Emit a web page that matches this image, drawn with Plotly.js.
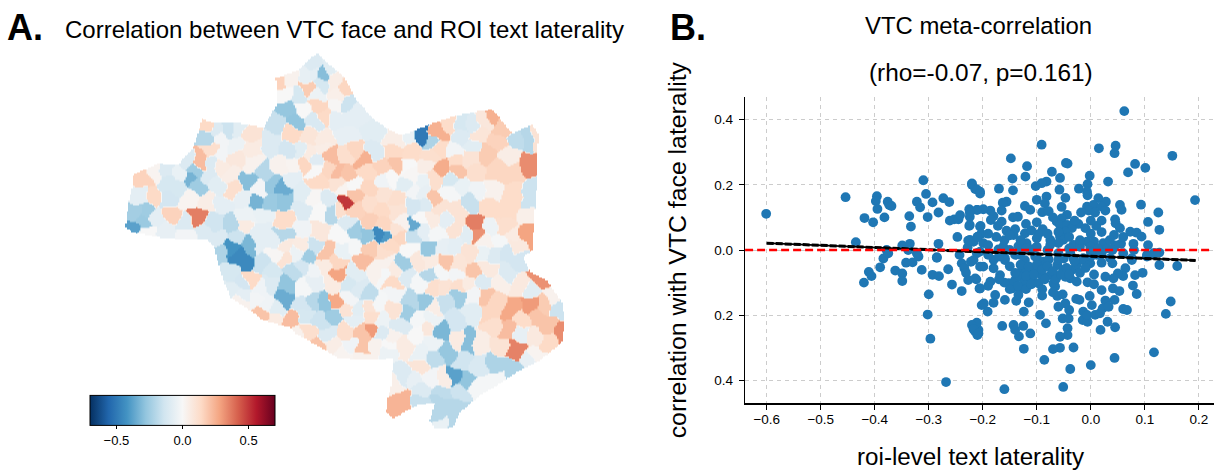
<!DOCTYPE html>
<html><head><meta charset="utf-8">
<script src="https://cdn.plot.ly/plotly-3.0.1.min.js"></script>
<style>html,body{margin:0;padding:0;background:#fff}#c{width:1214px;height:470px}</style>
</head><body><div id="c"></div>
<script>
// ---- Panel B values
const roiTextLaterality = [
-.601,-.454,-.435,-.419,-.403,-.396,-.398,-.395,-.382,-.376,-.373,-.369,-.336,-.333,-.322,-.316,-.310,-.305,-.293,-.302,-.282,-.273,-.262,-.261,-.253,-.245,-.242,-.247,-.225,-.224,-.225,-.220,-.214,-.205,-.210,-.205,-.227,-.217,-.228,-.209,-.282,-.335,-.349,-.378,-.243,-.285,-.322,-.338,
-.384,-.375,-.390,-.411,-.406,-.420,-.362,-.349,-.349,-.342,-.330,-.319,-.313,-.285,-.293,-.281,-.264,-.257,-.300,-.302,-.297,-.268,-.239,-.239,-.234,-.231,-.227,-.222,-.212,-.206,-.202,-.217,-.212,-.208,-.214,-.210,-.205,
.062,-.091,.015,.046,.044,.151,-.148,-.118,-.046,-.043,-.072,.082,.069,.101,-.121,-.145,-.057,-.002,.032,-.082,-.091,-.102,-.006,-.022,-.170,-.144,-.058,-.007,-.006,-.220,-.211,-.205,.193,-.047,-.082,-.100,-.085,.014,.028,-.156,-.163,-.122,-.112,.054,.057,.093,-.054,-.007,.005,.020,.027,-.004,.008,-.018,-.090,-.078,-.044,.125,.045,.046,.106,.127,-.165,-.186,-.199,-.211,-.224,-.180,-.185,-.144,-.135,-.165,-.172,-.204,-.224,-.156,-.140,-.143,-.122,-.100,-.089,-.097,-.063,-.054,-.057,-.044,-.023,-.010,.010,-.035,-.047,-.057,-.075,.054,.073,.085,.094,.043,-.007,.006,.023,.056,.045,.079,.106,-.032,-.051,-.060,-.162,-.134,-.119,-.109,-.075,-.203,-.199,-.217,-.224,-.190,-.171,-.001,.014,.030,.127,.104,.116,.076,-.211,-.159,-.131,-.100,-.038,-.014,.011,.036,
.160,.127,.119,.104,.096,.082,.078,.085,.076,.064,.060,.050,.042,.027,.040,.020,.006,-.006,.006,.020,.041,.053,-.002,.044,.027,.148,.139,.060,.067,.117,.044,.000,-.038,-.086,-.051,-.160,-.032,-.057,-.070,-.124,-.112,-.133,-.125,-.143,-.140,-.164,-.083,-.094,-.124,-.115,-.138,-.159,-.177,-.180,-.198,-.191,-.211,-.220,-.217,-.208,-.043,-.043,-.057,-.052,-.041,-.040,-.047,-.060,-.062,-.052,-.027,-.021,-.014,-.015,-.006,-.007,.008,.002,.017,.031,.045,.018,.022,.033,-.205,-.199,-.180,-.168,-.186,-.214,-.159,-.146,-.152,-.140,-.128,-.119,-.131,-.109,-.097,-.103,-.088,-.078,-.122,-.103,-.069,-.066,-.075,-.062,-.051,-.038,-.026,-.035,-.026,-.014,-.001,-.063,-.047,-.131,-.143,-.217,-.050,-.032,-.091,-.134,-.122,
-.15,-.14,-.13,-.12,-.115,-.105,-.10,-.09,-.085,-.08,-.07,-.065,-.06,-.055,-.045,-.04,-.03,-.02,-.01,.0,-.16,-.15,-.135,-.12,-.11,-.09,-.18,-.17,-.15,-.14,-.12,-.10,-.08,-.06,-.04,-.02,.0,.02,.04,.06,.08,-.19,-.205,-.21,-.19,-.175,-.16,-.15,-.13,-.11,-.08,-.06,-.04,-.02,.0,.02,.035,.06,.02,.0,-.03,-.07,-.10,-.12,-.19,-.17,-.09,-.07
];
const vtcFaceLaterality = [
.111,.162,.024,.098,.085,.165,.150,.126,.100,.148,.138,.135,.104,.072,.148,.131,.214,.172,.146,.101,.115,.159,.147,.090,.094,.094,.107,.040,.125,.102,.074,.204,.187,.179,.123,.072,.029,.026,.008,.041,.019,.019,.014,.000,-.015,-.022,-.010,.000,
-.026,-.010,-.053,-.067,-.080,-.100,-.063,-.072,-.095,-.039,-.038,-.020,-.061,-.024,-.076,-.080,-.059,-.106,-.136,-.198,-.272,-.405,-.126,-.041,-.056,-.070,-.092,-.036,-.090,-.118,-.169,-.235,-.227,-.245,-.250,-.261,-.051,
.426,.323,.312,.320,.297,.289,.281,.257,.267,.265,.240,.264,.238,.252,.225,.219,.221,.228,.210,.210,.205,.196,.202,.188,.188,.183,.185,.179,.168,.200,.186,.173,.153,.160,.164,.154,.143,.159,.148,.148,.145,.135,.123,.138,.123,.139,.132,.133,.138,.133,.121,.121,.115,.115,.116,.119,.108,.115,.094,.082,.086,.062,.121,.121,.125,.123,.115,.104,.092,.100,.102,.087,.074,.074,.077,.059,.064,.046,.051,.036,.064,.049,.087,.097,.077,.077,.080,.067,.074,.067,.056,.041,.031,.067,.056,.053,.041,.046,.026,.026,.021,.019,.014,.019,.015,.016,.031,.021,.010,.012,.021,.003,.016,.049,.021,.026,.031,.015,.002,.010,.005,.005,-.008,-.015,-.010,-.025,-.010,-.025,-.015,-.020,-.010,-.025,-.015,-.025,
-.049,-.046,-.010,-.020,-.070,-.077,-.109,-.135,-.031,-.056,-.080,-.072,-.087,-.082,-.041,-.039,-.075,-.099,-.105,-.123,-.118,-.126,-.141,-.153,-.155,-.158,-.196,-.181,-.184,-.314,-.331,-.353,-.365,-.337,-.420,-.427,-.299,-.300,-.304,-.303,-.256,-.265,-.233,-.230,-.245,-.233,-.225,-.199,-.189,-.161,-.156,-.153,-.138,-.162,-.164,-.189,-.223,-.230,-.243,-.256,-.240,-.261,-.266,-.210,-.210,-.184,-.164,-.174,-.141,-.136,-.150,-.153,-.189,-.215,-.220,-.199,-.199,-.169,-.194,-.220,-.237,-.245,-.179,-.174,-.118,-.051,-.056,-.077,-.097,-.087,-.031,-.118,-.102,-.092,-.066,-.061,-.118,-.087,-.102,-.061,-.036,-.029,-.031,-.020,-.102,-.112,-.077,-.046,-.061,-.087,-.097,-.061,-.046,-.031,-.041,-.082,-.082,-.082,-.102,-.031,-.026,-.026,-.077,-.138,-.097,
-.05,-.07,-.045,-.08,-.05,-.075,-.045,-.06,-.09,-.05,-.065,-.09,-.03,-.075,-.055,-.075,-.035,-.07,-.055,-.02,-.10,-.12,-.11,-.12,-.105,-.12,-.03,-.02,.0,-.015,.005,.01,.0,-.01,.005,.01,-.005,-.01,.0,-.01,.0,-.015,-.005,.04,.05,.04,.03,.045,.03,.06,.05,.055,.04,.03,.05,.055,.03,.04,.09,.09,.09,.1,.085,.08,-.11,-.09,-.14,-.13
];
const fitX = [-0.6, 0.194];
const fitY = [0.021, -0.032];
const zeroX = [-0.64, 0.2265];
const zeroY = [0, 0];
const xTicks = [-0.6,-0.5,-0.4,-0.3,-0.2,-0.1,0,0.1,0.2];
const yTicks = [0.4,0.2,0,-0.2,-0.4];
const yTickLabels = ["0.4","0.2","0.0","0.2","0.4"];

// ---- Panel A parcels: [column, row, correlation], read per quadrant of the map
const parcelsNW = [[700,70,-.1],[725,98,-.3],[680,105,-.06],[745,75,-.08],[700,100,-.07],[722,135,-.12],[597,123,.16],[630,115,.03],[615,160,0],[655,165,-.12],[682,143,.18],[710,160,-.04],[760,125,.05],[770,165,.04],[620,205,-.27],[648,238,-.28],[665,208,0],[712,197,.15],[735,225,.14],[765,195,.01],[590,248,-.16],[700,242,-.11],[765,235,-.07],[630,278,.14],[510,280,.1],[380,250,.14],[405,268,-.1],[440,268,-.15],[475,262,-.08],[385,292,-.2],[422,295,-.02],[570,308,-.1],[690,285,.09],[725,300,.06],[515,320,.06],[395,325,.12],[460,315,-.04],[625,330,-.13],[657,332,-.08],[725,320,.05],[685,340,.06],[360,362,.22],[395,365,-.1],[420,340,-.02],[320,362,-.1],[750,345,.22],[708,355,-.09],[672,372,.15],[700,388,0],[465,355,.08],[420,380,.06],[450,400,.05],[515,370,.03],[600,375,.03],[640,370,.02],[550,395,-.2],[505,420,-.3],[575,430,-.27],[605,442,-.35],[535,442,-.02],[630,415,-.07],[260,385,-.1],[297,398,-.05],[340,395,-.25],[328,412,-.33],[355,432,-.25],[380,408,-.1],[190,415,.16],[220,395,.02],[258,430,-.12],[295,435,-.12],[408,435,-.08],[458,450,.12],[420,490,-.07],[490,470,-.06],[525,487,-.33],[565,485,-.26],[610,475,-.28],[665,460,-.08],[665,510,-.1],[700,470,.01],[712,425,.14],[745,385,.15],[775,395,.22],[770,430,.1],[745,470,-.1],[180,465,-.07],[222,465,.14],[325,478,.02],[382,485,.05],[258,478,-.13],[165,520,-.24],[198,515,-.25],[155,558,-.38],[185,545,-.26],[225,530,-.07],[272,522,.16],[350,528,.36],[315,550,-.1],[405,540,-.14],[450,555,-.2],[500,525,-.04],[545,520,-.05],[615,540,.13],[670,565,-.03],[715,515,0],[755,515,-.2],[200,575,0],[260,570,-.06],[360,580,-.1],[310,590,-.02],[490,555,.06],[540,570,-.07],[610,585,-.2],[710,570,.08],[775,510,.12]];
const parcelsNE = [[15,483,.5],[15,140,.15],[20,185,-.15],[65,215,-.07],[30,235,-.07],[100,270,-.08],[20,280,-.06],[165,295,.05],[215,285,-.05],[238,285,-.5],[275,305,-.22],[295,280,.25],[330,250,.13],[360,250,-.12],[400,250,-.1],[430,235,.08],[450,220,.25],[490,265,.18],[415,285,.09],[360,290,-.1],[470,305,.16],[400,315,-.08],[340,330,-.02],[530,300,-.18],[565,295,-.2],[510,340,.05],[440,335,.18],[590,290,.1],[565,375,.33],[45,330,.15],[100,335,-.1],[160,335,.14],[215,335,.13],[270,345,.12],[300,320,.13],[70,355,.25],[15,345,.12],[275,358,.28],[390,350,.1],[345,360,.13],[310,380,.26],[350,390,.2],[130,380,.16],[170,370,.2],[255,375,.05],[200,375,0],[20,400,.2],[80,395,.14],[150,410,0],[215,400,.01],[130,420,-.03],[330,415,-.12],[280,420,.12],[370,430,-.05],[400,400,.12],[470,390,.15],[520,400,.15],[570,445,-.15],[40,430,0],[195,435,-.08],[250,420,-.05],[220,450,-.02],[250,455,-.06],[325,460,-.01],[410,450,-.03],[455,450,.03],[525,450,.13],[40,460,.2],[90,440,.15],[10,450,.02],[125,465,.1],[175,475,.12],[280,475,.2],[390,485,-.16],[45,510,.16],[95,485,.12],[220,495,-.13],[255,495,-.1],[300,500,.1],[350,505,.1],[445,500,.13],[510,500,.13],[565,520,.04],[570,485,-.15],[120,510,.14],[170,510,.1],[90,540,.17],[130,550,.15],[20,545,-.1],[45,575,-.25],[80,585,-.28],[118,583,-.45],[5,580,0],[165,570,.1],[190,545,.03],[218,550,-.36],[240,535,0],[218,585,-.16],[250,570,-.07],[278,535,.06],[315,540,-.07],[290,580,-.01],[350,565,.1],[410,550,.36],[380,585,-.08],[445,565,-.04],[495,565,.12],[520,585,.06],[558,580,.28],[180,590,.15]];
const parcelsSW = [[30,15,-.02],[70,15,-.07],[115,25,-.1],[170,10,-.15],[120,65,-.22],[172,75,-.45],[150,55,-.42],[190,98,-.45],[208,45,-.32],[235,35,-.07],[280,35,-.07],[245,100,-.15],[285,70,.01],[315,45,.07],[365,40,.06],[400,50,-.15],[435,68,.2],[490,60,-.05],[522,50,-.01],[570,55,.18],[610,70,.12],[385,80,-.25],[345,70,-.04],[315,88,.1],[470,95,.15],[545,90,.22],[425,105,.06],[155,125,-.12],[210,145,.14],[185,160,-.13],[275,115,-.12],[335,120,-.18],[365,105,-.13],[400,120,-.03],[476,130,.28],[525,125,-.08],[590,125,.03],[640,125,.06],[150,175,-.08],[190,190,-.07],[243,175,-.03],[270,160,-.1],[320,160,-.28],[365,175,-.01],[405,155,-.06],[455,165,.06],[505,165,-.12],[535,175,-.1],[560,195,-.18],[640,155,.14],[310,205,-.35],[225,205,-.02],[255,225,-.03],[505,205,-.02],[600,215,-.01],[640,190,-.02],[400,210,-.2],[430,215,-.28],[465,212,.27],[365,225,-.13],[180,215,.03],[290,235,-.08],[535,235,-.08],[505,238,.1],[565,225,.1],[640,235,.1],[250,245,.2],[460,255,-.25],[330,265,.22],[575,260,.12],[370,250,-.12],[420,275,-.15],[280,265,.06],[520,265,-.07],[600,270,-.04],[385,305,.12],[440,310,-.1],[500,300,.12],[545,310,.2],[580,292,.3],[600,310,-.1],[635,320,.03],[352,340,-.25],[350,320,.03],[450,345,.05],[512,345,-.03],[585,345,.03],[625,365,-.04],[548,353,.2],[415,350,.2],[490,370,.02],[550,380,.03]];
const parcelsSE = [[15,15,-.4],[30,40,.14],[60,30,.2],[100,15,-.18],[85,55,0],[150,55,-.27],[185,50,-.06],[165,20,0],[225,45,-.07],[270,65,.1],[290,8,.32],[255,30,-.05],[315,30,.03],[360,30,-.01],[310,70,-.05],[340,70,-.1],[380,65,-.13],[410,95,-.13],[405,40,.07],[435,20,.3],[15,90,.03],[30,90,.1],[75,95,-.25],[110,95,.08],[150,90,.06],[195,95,.2],[235,100,.09],[280,125,.2],[320,115,.07],[10,130,-.01],[40,125,.05],[80,135,-.1],[120,160,-.01],[150,135,-.2],[225,135,-.02],[185,125,-.01],[265,155,.06],[310,150,-.1],[355,165,.04],[420,165,.07],[385,125,-.1],[480,150,.32],[455,175,-.08],[42,155,.15],[160,170,.12],[235,165,.12],[190,165,.1],[40,225,.1],[95,212,-.2],[133,213,-.27],[85,248,-.25],[160,235,.05],[115,260,-.01],[195,215,-.16],[235,195,-.25],[275,195,-.02],[320,192,.2],[350,205,.15],[395,235,.27],[453,225,.3],[520,200,.03],[495,220,.18],[60,285,-.1],[10,310,-.12],[155,260,-.04],[225,270,-.13],[275,245,-.08],[330,245,.15],[430,265,.13],[465,260,.2],[510,285,.2],[535,240,-.15],[545,305,.33],[140,298,.08],[182,300,-.32],[115,310,0],[30,340,0],[70,350,.06],[155,335,-.04],[235,330,.06],[262,332,-.3],[300,335,.05],[340,290,.12],[380,300,.22],[425,308,-.06],[460,320,.07],[505,335,.14],[360,345,.1],[408,358,.35],[468,375,.02],[125,370,-.05],[160,380,-.18],[205,365,-.27],[120,410,.09],[70,435,-.1],[155,440,-.02],[190,445,.05],[225,435,-.38],[260,450,-.28],[245,395,-.14],[295,410,-.11],[345,400,-.22],[400,415,-.22],[445,390,-.06],[100,445,-.06],[120,480,-.1],[40,465,.04],[288,470,-.01],[240,490,-.15],[190,490,-.18],[345,450,-.01],[65,505,.24],[35,535,.24],[120,510,-.16],[185,510,-.2],[240,530,-.2],[175,555,-.2],[185,572,-.05],[220,570,-.2]];
const mapOutlineX = [317,330,340,345,357,373,390,402,427,457,483,492,500,512,532,539,537,537,535,533,532,523,530,547,562,565,562,550,537,520,497,480,460,453,435,430,435,417,402,393,386,388,392,393,363,337,317,295,290,263,250,230,223,217,213,207,180,160,133,125,128,132,132,157,177,193,202,213,235,263,277,277,275,297];
const mapOutlineY = [52,65,73,78,100,118,130,135,125,115,110,109,118,133,124,135,153,183,210,240,250,257,272,280,302,320,342,352,362,370,385,395,412,427,429,420,402,405,413,418,412,397,383,358,360,357,345,333,327,320,310,297,280,260,245,240,239,237,232,227,203,187,175,163,165,147,118,123,122,127,103,85,78,70];
const colorTicks = [-0.5, 0, 0.5];
const rdbu = ["#053061","#2166ac","#4393c3","#92c5de","#d1e5f0","#f7f7f7","#fddbc7","#f4a582","#d6604d","#b2182b","#67001f"];

// Assemble the parcels in map units (crops were read at 3x)
const addParcels = (list, ox, oy) => list.map(p => [ox + p[0] / 3, oy + p[1] / 3, p[2]]);
const allParcels = [].concat(addParcels(parcelsNW, 80, 40), addParcels(parcelsNE, 340, 40), addParcels(parcelsSW, 180, 230), addParcels(parcelsSE, 380, 230));
const parcels = [];
for (const p of allParcels) {
  if (!parcels.some(q => (q[0]-p[0])*(q[0]-p[0]) + (q[1]-p[1])*(q[1]-p[1]) < 30)) parcels.push(p);
}
const inside = (x, y) => {
  let c = false;
  for (let i = 0, j = mapOutlineX.length - 1; i < mapOutlineX.length; j = i++) {
    if ((mapOutlineY[i] > y) !== (mapOutlineY[j] > y) &&
        x < (mapOutlineX[j] - mapOutlineX[i]) * (y - mapOutlineY[i]) / (mapOutlineY[j] - mapOutlineY[i]) + mapOutlineX[i]) c = !c;
  }
  return c;
};
const gx = [], gy = [];
for (let x = 100; x <= 570; x += 1.5) gx.push(x);
for (let y = 45; y <= 435; y += 1.5) gy.push(y);
const gz = gy.map(y => gx.map(x => {
  if (!inside(x, y)) return null;
  // parcel borders bend gently: compare distances from a slightly displaced sample
  const sx = x + 1.5 * Math.sin(y * 0.31 + x * 0.07);
  const sy = y + 1.5 * Math.sin(x * 0.29 + y * 0.05);
  let best = 1e12, v = 0;
  for (const p of parcels) {
    const d = (p[0] - sx) * (p[0] - sx) + (p[1] - sy) * (p[1] - sy);
    if (d < best) { best = d; v = p[2]; }
  }
  return v;
}));

const W = 1214, H = 470;
const txt = (text, px, py, size, extra) => Object.assign({
  text, xref: 'paper', yref: 'paper', x: px / W, y: 1 - py / H, xanchor: 'left', yanchor: 'middle',
  showarrow: false, font: {family: 'Liberation Sans, Arial, sans-serif', size, color: '#000'}
}, extra || {});

const traces = [
  {type: 'heatmap', x: gx, y: gy, z: gz, xaxis: 'x2', yaxis: 'y2', zmin: -0.7, zmax: 0.7, zsmooth: 'best',
   colorscale: rdbu.map((c, i) => [i / 10, c]), hoverinfo: 'skip',
   colorbar: {orientation: 'h', lenmode: 'pixels', len: 185, thicknessmode: 'pixels', thickness: 30,
     x: 90 / W, xanchor: 'left', y: 1 - 449 / H, yanchor: 'bottom', xpad: 0, ypad: 0,
     outlinecolor: '#000', outlinewidth: 1, ticks: 'outside', ticklen: 4, tickwidth: 1, tickcolor: '#000',
     tickvals: colorTicks, tickformat: '.1f', tickfont: {family: 'Liberation Sans', size: 13, color: '#000'}}},
  {type: 'scatter', mode: 'markers', x: roiTextLaterality, y: vtcFaceLaterality,
   marker: {color: '#1f77b4', size: 9.8, line: {width: 0}}, hoverinfo: 'skip'},
  {type: 'scatter', mode: 'lines', x: fitX, y: fitY, line: {color: '#000', width: 1.8}, hoverinfo: 'skip'},
  {type: 'scatter', mode: 'lines', x: fitX, y: fitY, line: {color: '#000', width: 3, dash: '7px,2px'}, hoverinfo: 'skip'},
  {type: 'scatter', mode: 'lines', x: zeroX, y: zeroY, line: {color: '#ff0000', width: 2.3, dash: '8px,4px'}, hoverinfo: 'skip'}
];

const layout = {
  width: W, height: H, showlegend: false, paper_bgcolor: '#fff', plot_bgcolor: 'rgba(0,0,0,0)',
  margin: {l: 0, r: 0, t: 0, b: 0},
  font: {family: 'Liberation Sans, Arial, sans-serif', color: '#000'},
  xaxis: {domain: [745 / W, 1213.5 / W], range: [-0.6402, 0.2272], anchor: 'y', tickmode: 'array', tickvals: xTicks, tickformat: '.1f',
    showgrid: true, gridcolor: '#cccccc', griddash: '4px,4px', gridwidth: 1, zeroline: false,
    showline: true, linecolor: '#000', linewidth: 1.2, ticks: 'outside', ticklen: 5, tickwidth: 1, tickcolor: '#000',
    ticklabelstandoff: -2, tickfont: {size: 13.5, color: '#000'}},
  yaxis: {domain: [1 - 403.3 / H, 1 - 97 / H], range: [-0.4702, 0.4693], anchor: 'x', tickmode: 'array', tickvals: yTicks, ticktext: yTickLabels,
    showgrid: true, gridcolor: '#cccccc', griddash: '4px,4px', gridwidth: 1, zeroline: false,
    showline: true, linecolor: '#000', linewidth: 1.2, ticks: 'outside', ticklen: 5, tickwidth: 1, tickcolor: '#000',
    ticklabelstandoff: 3, tickfont: {size: 13.5, color: '#000'},
    title: {text: 'correlation with VTC face laterality', font: {size: 24.8, color: '#000'}, standoff: 20}},
  xaxis2: {domain: [100 / W, 570 / W], range: [99.5, 570.5], anchor: 'y2', visible: false, fixedrange: true},
  yaxis2: {domain: [1 - 435.5 / H, 1 - 44.5 / H], range: [435.5, 44.5], anchor: 'x2', visible: false, fixedrange: true},
  annotations: [
    txt('<b>A.</b>', 5, 28, 36),
    txt('Correlation between VTC face and ROI text laterality', 63, 30, 24),
    txt('<b>B.</b>', 668, 28, 36),
    txt('VTC meta-correlation', 863, 25, 23.9),
    txt('(rho=-0.07, p=0.161)', 867, 72, 24.4),
    txt('roi-level text laterality', 855, 456, 24.2)
  ]
};
Plotly.newPlot('c', traces, layout, {staticPlot: true, displayModeBar: false});
</script></body></html>
